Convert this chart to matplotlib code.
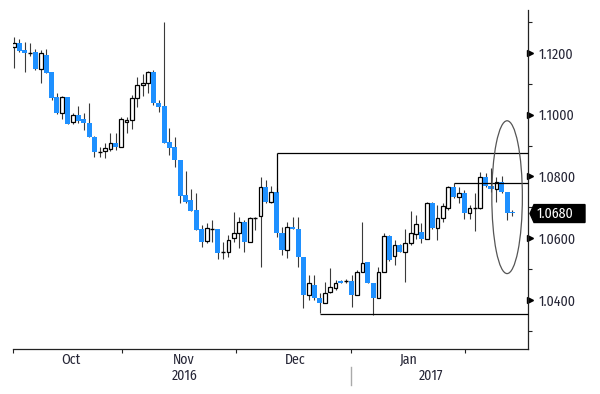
import matplotlib
matplotlib.use("Agg")
import matplotlib.pyplot as plt
from matplotlib.patches import Ellipse, Polygon
import matplotlib.transforms as mtransforms

opens = [1.1218,1.1233,1.1210,1.1201,1.1202,1.1148,1.1194,1.1140,1.1056,1.1005,
         1.1056,1.0978,1.1000,1.0985,1.0972,1.0929,1.0880,1.0883,1.0888,1.0907,
         1.0894,1.0975,1.0983,1.1053,1.1096,1.1102,1.1140,1.1039,1.1028,1.0913,
         1.0897,1.0853,1.0740,1.0724,1.0691,1.0629,1.0592,1.0629,1.0629,1.0556,
         1.0556,1.0600,1.0616,1.0654,1.0589,1.0664,1.0672,1.0767,1.0718,1.0751,
         1.0616,1.0562,1.0635,1.0629,1.0540,1.0416,1.0448,1.0405,1.0391,1.0427,
         1.0438,1.0462,1.0462,1.0462,1.0416,1.0492,1.0524,1.0456,1.0408,1.0491,
         1.0607,1.0542,1.0578,1.0556,1.0583,1.0614,1.0620,1.0599,1.0715,1.0632,
         1.0664,1.0697,1.0767,1.0732,1.0747,1.0683,1.0697,1.0697,1.0797,1.0769,
         1.0758,1.0783,1.0751,1.0686]
highs = [1.1251,1.1244,1.1237,1.1234,1.1212,1.1210,1.1212,1.1140,1.1069,1.1061,
         1.1059,1.1005,1.1028,1.1005,1.1039,1.0931,1.0897,1.0907,1.0942,1.0940,
         1.0994,1.0994,1.1064,1.1123,1.1132,1.1143,1.1145,1.1048,1.1300,1.0956,
         1.0927,1.0853,1.0819,1.0758,1.0745,1.0643,1.0648,1.0659,1.0629,1.0589,
         1.0610,1.0686,1.0670,1.0659,1.0670,1.0670,1.0799,1.0789,1.0770,1.0762,
         1.0637,1.0654,1.0670,1.0670,1.0540,1.0481,1.0481,1.0421,1.0458,1.0502,
         1.0465,1.0465,1.0467,1.0481,1.0497,1.0654,1.0524,1.0456,1.0508,1.0616,
         1.0612,1.0594,1.0580,1.0629,1.0689,1.0675,1.0648,1.0718,1.0718,1.0707,
         1.0713,1.0769,1.0778,1.0767,1.0756,1.0707,1.0745,1.0816,1.0810,1.0826,
         1.0799,1.0802,1.0751,1.0691]
lows = [1.1153,1.1204,1.1140,1.1190,1.1145,1.1104,1.1134,1.1048,1.1001,1.0985,
        1.0970,1.0970,1.0972,1.0951,1.0927,1.0862,1.0864,1.0859,1.0884,1.0886,
        1.0894,1.0940,1.0953,1.1024,1.1061,1.1072,1.1032,1.1010,1.0907,1.0870,
        1.0832,1.0713,1.0715,1.0689,1.0627,1.0573,1.0583,1.0589,1.0532,1.0532,
        1.0540,1.0589,1.0567,1.0556,1.0589,1.0627,1.0508,1.0713,1.0713,1.0605,
        1.0546,1.0535,1.0629,1.0508,1.0373,1.0400,1.0400,1.0357,1.0391,1.0424,
        1.0432,1.0456,1.0454,1.0378,1.0416,1.0492,1.0456,1.0351,1.0408,1.0491,
        1.0527,1.0513,1.0554,1.0459,1.0578,1.0599,1.0583,1.0596,1.0629,1.0594,
        1.0654,1.0691,1.0729,1.0713,1.0661,1.0661,1.0624,1.0694,1.0767,1.0751,
        1.0718,1.0745,1.0659,1.0672]
closes = [1.1233,1.1208,1.1201,1.1201,1.1148,1.1201,1.1136,1.1053,1.1005,1.1056,
          1.0970,1.1000,1.0980,1.0972,1.0927,1.0880,1.0880,1.0891,1.0907,1.0894,
          1.0985,1.0983,1.1053,1.1096,1.1104,1.1140,1.1039,1.1024,1.0910,1.0891,
          1.0854,1.0737,1.0718,1.0689,1.0627,1.0589,1.0632,1.0629,1.0551,1.0556,
          1.0594,1.0616,1.0654,1.0589,1.0664,1.0664,1.0767,1.0718,1.0751,1.0616,
          1.0562,1.0635,1.0629,1.0540,1.0416,1.0454,1.0405,1.0391,1.0423,1.0441,
          1.0456,1.0456,1.0462,1.0416,1.0492,1.0521,1.0456,1.0408,1.0492,1.0607,
          1.0531,1.0578,1.0556,1.0585,1.0616,1.0646,1.0599,1.0715,1.0632,1.0664,
          1.0704,1.0767,1.0732,1.0747,1.0683,1.0699,1.0697,1.0797,1.0769,1.0758,
          1.0783,1.0751,1.0683,1.0683]

month_labels = ["Oct", "Nov", "Dec", "Jan"]
year_labels = ["2016", "2017"]
month_ticks = [-0.19, 20.15, 41.4, 62.9, 84.1]
ytick_major = [1.04, 1.06, 1.08, 1.10, 1.12]
ytick_minor = [1.03, 1.05, 1.07, 1.09, 1.11, 1.13]
last_price = 1.0680

# annotation levels (start candle index, level)
resist_top = (49, 1.0876, 1.0751)
support_low = (57, 1.0354)
resist_mid = (82, 1.0778)
ellipse_spec = (92.0, 1.0733, 5.7, 0.0495)

BLUE = "#1E90FF"
WICK = "#3a3a3a"
FONT = ["Fira Sans Condensed", "IBM Plex Sans Condensed", "DejaVu Sans"]
FS = 10
TXT = "#262636"

W, H = 600, 394
fig = plt.figure(figsize=(6, 3.94), dpi=100)
ax = fig.add_axes([13 / W, 1 - 349 / H, 515 / W, 339 / H])
ax.set_xlim(-0.19, 95.9)
ax.set_ylim(1.02412, 1.13393)

n = len(opens)
xs = list(range(n))
ax.vlines(xs, lows, highs, color=WICK, lw=0.8, zorder=2)
for i in xs:
    o, c = opens[i], closes[i]
    if abs(c - o) < 1e-9:
        ax.hlines(o, i - 0.4, i + 0.4, color="black", lw=1.0, zorder=3)
    elif c < o:
        ax.bar(i, o - c, bottom=c, width=0.95, color=BLUE, edgecolor="none", zorder=3)
    else:
        ax.bar(i, c - o, bottom=o, width=0.7, facecolor="white", edgecolor="black",
               linewidth=0.9, zorder=3)

# annotations
xi, lvl, lo = resist_top
ax.hlines(lvl, xi, 95.9, color="black", lw=0.9, zorder=4, clip_on=False)
ax.vlines(xi, lo, lvl, color="black", lw=0.9, zorder=4)
xi, lvl = support_low
ax.hlines(lvl, xi, 95.9, color="black", lw=0.9, zorder=4, clip_on=False)
xi, lvl = resist_mid
ax.hlines(lvl, xi, 95.9, color="black", lw=0.9, zorder=4, clip_on=False)
ex, ey, ew, eh = ellipse_spec
ax.add_patch(Ellipse((ex, ey), ew, eh, fill=False, edgecolor="#555555", lw=0.9, zorder=5))

# spines
for s in ["left", "top"]:
    ax.spines[s].set_visible(False)
ax.spines["right"].set_color("#222222")
ax.spines["bottom"].set_color("#222222")
ax.spines["right"].set_linewidth(0.9)
ax.spines["bottom"].set_linewidth(0.9)

# y axis on right
ax.yaxis.tick_right()
ax.set_yticks(ytick_major)
ax.set_yticklabels([f"{v:.4f}" for v in ytick_major], fontfamily=FONT, fontsize=FS, color=TXT)
ax.set_yticks(ytick_minor, minor=True)
ax.tick_params(axis="y", which="major", length=0, pad=8)
ax.tick_params(axis="y", which="minor", length=3, width=0.8, color="#222222", direction="out")
trans = mtransforms.blended_transform_factory(ax.transAxes, ax.transData)
ax.plot([1.0 + 2.5 / 515] * len(ytick_major), ytick_major, marker=">", ls="none",
        ms=4, color="black", transform=trans, clip_on=False)

# x axis
ax.set_xticks(month_ticks)
ax.set_xticklabels([])
ax.tick_params(axis="x", which="major", length=3, width=0.8, color="#222222", direction="out")

month_px = [71, 184, 295, 409]
for lab, px in zip(month_labels, month_px):
    fig.text(px / W, 1 - 360 / H, lab, ha="center", va="center", fontfamily=FONT,
             fontsize=FS, color=TXT)
year_px = [185, 431]
for lab, px in zip(year_labels, year_px):
    fig.text(px / W, 1 - 376 / H, lab, ha="center", va="center", fontfamily=FONT,
             fontsize=FS, color=TXT)
fig.add_artist(plt.Line2D([351 / W, 351 / W], [1 - 367 / H, 1 - 385 / H], color="#aaaaaa",
                          lw=1.0, transform=fig.transFigure))

# last price tag
hh = 0.0029
tag = Polygon([(1.0 + 2 / 515, last_price), (1.0 + 6 / 515, last_price + hh),
               (1.0 + 57 / 515, last_price + hh), (1.0 + 57 / 515, last_price - hh),
               (1.0 + 6 / 515, last_price - hh)], closed=True, facecolor="black",
              edgecolor="black", transform=trans, clip_on=False, zorder=6)
ax.add_patch(tag)
ax.text(1.0 + 9 / 515, last_price, f"{last_price:.4f}", transform=trans, ha="left",
        va="center", color="white", fontfamily=FONT, fontsize=FS, zorder=7)

fig.savefig("out.png", dpi=100)
